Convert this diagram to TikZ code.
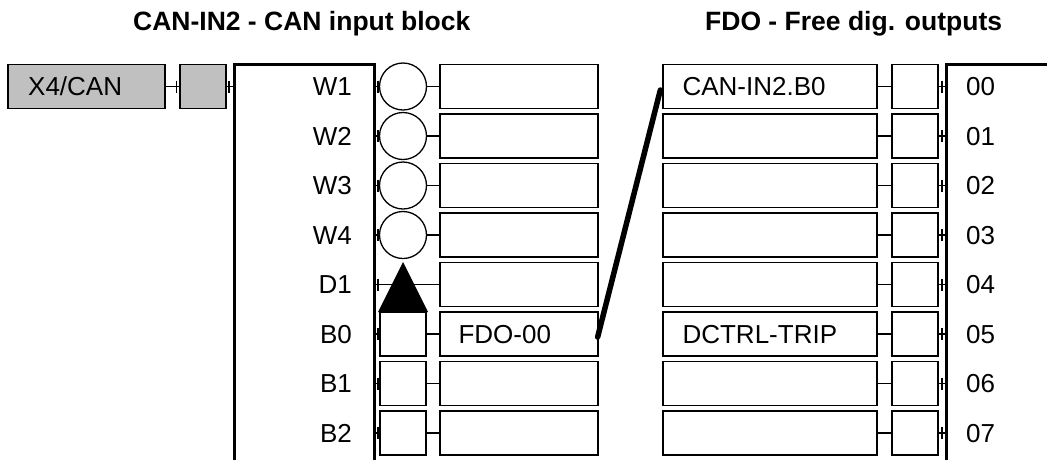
\documentclass[tikz,border=0pt]{standalone}
\usepackage{fontspec}
\setmainfont{Liberation Sans}
\usetikzlibrary{calc}
\begin{document}
\begin{tikzpicture}[x=1pt,y=-1pt,
  ln/.style={line width=1.3pt},
  txt/.style={inner sep=0pt, text height=18.6pt, text depth=0pt, font=\fontsize{26}{30}\selectfont},
  ttl/.style={inner sep=0pt, text height=19pt, text depth=0pt, font=\fontsize{26.5}{30}\selectfont\bfseries},
  cell/.style={draw, ln, inner sep=0pt, minimum height=44pt},
  gcell/.style={cell, fill=gray75},
  blk/.style={draw, line width=2.6pt, inner sep=0pt},
  circ/.style={draw, ln, circle, inner sep=0pt, minimum size=47pt},
  wire/.style={ln},
  link/.style={line width=5.5pt, line cap=round}
]
\definecolor{gray75}{RGB}{192,192,192}
\useasboundingbox (0,0) rectangle (1047,459);
\clip (0,0) rectangle (1047,459);

% titles
\node[ttl, anchor=west] (t1) at (133,20.5) {CAN-IN2 - CAN input block};
\node[ttl, anchor=west] (t2) at (705,20.5) {FDO - Free dig. outputs};

% gray input boxes
\node[gcell, minimum width=157pt] (x4) at (86.5,86.5) {};
\node[txt, anchor=west] (x4t) at (28,86.5) {X4/CAN};
\node[gcell, minimum width=46pt] (gb) at (203,86.5) {};
\draw[wire] (x4.east) -- (gb.west);
\draw[wire] ($(gb.west)+(-3,-6)$) -- ++(0,12);

% blocks
\node[blk, anchor=north west, minimum width=140pt, minimum height=420pt] (cin) at (233,63) {};
\node[blk, anchor=north west, minimum width=140pt, minimum height=420pt] (fdo) at (945,63) {};
\draw[wire] (gb.east) -- (gb.east -| cin.west);
\draw[wire] ($(gb.east -| cin.west)+(-4,-6)$) -- ++(0,12);

% rows
\foreach \i/\lab/\olab in {0/W1/00,1/W2/01,2/W3/02,3/W4/03,4/D1/04,5/B0/05,6/B1/06,7/B2/07}{
  \pgfmathsetmacro\c{86.5+49.5*\i}
  \node[txt, anchor=east] (l\i) at (352,\c) {\lab};
  \node[cell, minimum width=158pt] (lb\i) at (519,\c) {};
  \node[cell, minimum width=214pt] (fb\i) at (770,\c) {};
  \node[cell, minimum width=46pt] (sb\i) at (915,\c) {};
  \node[txt, anchor=west] (o\i) at (966,\c) {\olab};
  \draw[wire] (fb\i.east) -- (sb\i.west);
  \draw[wire] (sb\i.east) -- (sb\i.east -| fdo.west);
  \draw[wire] ($(sb\i.east -| fdo.west)+(-3,-6)$) -- ++(0,12);
  \draw[wire] ($(lb\i.west -| cin.east)+(2.5,-6)$) -- ++(0,12);
}
\foreach \i in {0,1,2,3}{
  \pgfmathsetmacro\c{86.5+49.5*\i}
  \node[circ] (e\i) at (403,\c) {};
  \draw[wire] (lb\i.west -| cin.east) -- (e\i.west);
  \draw[wire] (e\i.east) -- (lb\i.west);
}
\foreach \i in {5,6,7}{
  \pgfmathsetmacro\c{86.5+49.5*\i}
  \node[cell, minimum width=46pt] (e\i) at (403,\c) {};
  \draw[wire] (lb\i.west -| cin.east) -- (e\i.west);
  \draw[wire] (e\i.east) -- (lb\i.west);
}
% D1 row: horizontal line with filled triangle
\draw[wire] (lb4.west -| cin.east) -- (lb4.west);
\coordinate (tri) at (403,262);
\fill (tri) -- ++(25,50) -- ++(-50,0) -- cycle;

% texts in cells
\node[txt, anchor=west] (fdo00) at ($(lb5.west)+(19,0)$) {FDO-00};
\node[txt, anchor=west] (canb0) at ($(fb0.west)+(20,0)$) {CAN-IN2.B0};
\node[txt, anchor=west] (trip) at ($(fb5.west)+(20,0)$) {DCTRL-TRIP};

% link
\draw[link] ([xshift=-2pt,yshift=-3.5pt]fb0.west) -- ([xshift=-1pt,yshift=-3pt]lb5.east);
\end{tikzpicture}
\end{document}
